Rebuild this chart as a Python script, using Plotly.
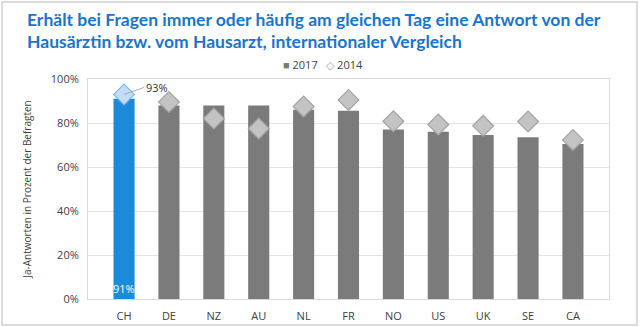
import plotly.graph_objects as go

countries = ["CH", "DE", "NZ", "AU", "NL", "FR", "NO", "US", "UK", "SE", "CA"]
values_2017 = [91, 88, 88, 88, 86, 85.6, 77, 76, 74.5, 73.5, 70.5]
values_2014 = [93, 89.5, 82, 77.5, 87.5, 90.5, 80.8, 79.3, 78.7, 80.7, 72.3]
tick_vals = [0, 20, 40, 60, 80, 100]
tick_text = ["0%", "20%", "40%", "60%", "80%", "100%"]
title_lines = ["Erhält bei Fragen immer oder häufig am gleichen Tag eine Antwort von der",
               "Hausärztin bzw. vom Hausarzt, internationaler Vergleich"]

bar_colors = ["#1b8ad8"] + ["#7b7b7b"] * (len(countries) - 1)
dia_fill = ["#c4dcf6"] + ["#c3c3c3"] * (len(countries) - 1)
dia_line = ["#7fb6ea"] + ["#a3a3a3"] * (len(countries) - 1)

PW, PH = 521, 220  # plot area size in px

fig = go.Figure()
fig.add_trace(go.Bar(
    x=countries, y=values_2017, name="2017",
    marker=dict(color=bar_colors, line=dict(width=0)),
    width=0.47, showlegend=False,
))
fig.add_trace(go.Scatter(
    x=countries, y=values_2014, name="2014", mode="markers",
    marker=dict(symbol="diamond", size=16, color=dia_fill,
                line=dict(color=dia_line, width=1.2)),
    showlegend=False,
))

fig.add_annotation(x=countries[0], y=values_2014[0], text=f"{values_2014[0]:.0f}%",
                   showarrow=True, arrowhead=0, arrowwidth=0.8, arrowcolor="#999999",
                   ax=20, ay=-7, xanchor="left", font=dict(size=11, color="#333333"))
fig.add_annotation(x=countries[0], y=0, text=f"{values_2017[0]:.0f}%", showarrow=False,
                   yanchor="bottom", yshift=1, font=dict(size=11, color="#ffffff"))

# title lines
for i, line in enumerate(title_lines):
    fig.add_annotation(xref="paper", yref="paper", x=-63 / PW, y=1 + (79 - 19 - 23 * i) / PH,
                       xanchor="left", yanchor="middle", showarrow=False,
                       text=f"<b>{line}</b>",
                       font=dict(family="Lato, sans-serif", size=17.5, color="#1a74c9"))

# legend
fig.add_annotation(xref="paper", yref="paper", x=(323 - 88) / PW, y=1 + (79 - 65) / PH,
                   xanchor="center", yanchor="middle", showarrow=False,
                   text="<span style='color:#7b7b7b'>■</span> 2017   <span style='color:#a3a3a3'>◇</span> 2014",
                   font=dict(size=11, color="#404040"))

fig.update_layout(
    width=640, height=327,
    margin=dict(l=88, r=31, t=79, b=28),
    paper_bgcolor="#ffffff", plot_bgcolor="#ffffff",
    font=dict(family="Open Sans, sans-serif", size=11, color="#404040"),
    showlegend=False,
    bargap=0.5,
    xaxis=dict(showgrid=False, showline=True, linecolor="#d9d9d9", mirror=True,
               automargin=False,
               ticks="outside", ticklen=7, tickcolor="rgba(0,0,0,0)",
               tickfont=dict(size=11, color="#404040")),
    yaxis=dict(range=[0, 100], tickvals=tick_vals, ticktext=tick_text,
               automargin=False,
               showgrid=True, gridcolor="#e3e3e3", gridwidth=1,
               showline=True, linecolor="#d9d9d9", mirror=True, zeroline=False,
               ticks="outside", ticklen=6, tickcolor="rgba(0,0,0,0)",
               title=dict(text="Ja-Antworten in Prozent der Befragten",
                          font=dict(size=10, color="#404040"), standoff=17),
               tickfont=dict(size=11, color="#404040")),
    shapes=[dict(type="rect", xref="paper", yref="paper", x0=-86 / PW, x1=1 + 28 / PW,
                 y0=-26 / PH, y1=1 + 77 / PH, line=dict(color="#cfcfcf", width=1.5))],
)

fig.write_html("out.html")
